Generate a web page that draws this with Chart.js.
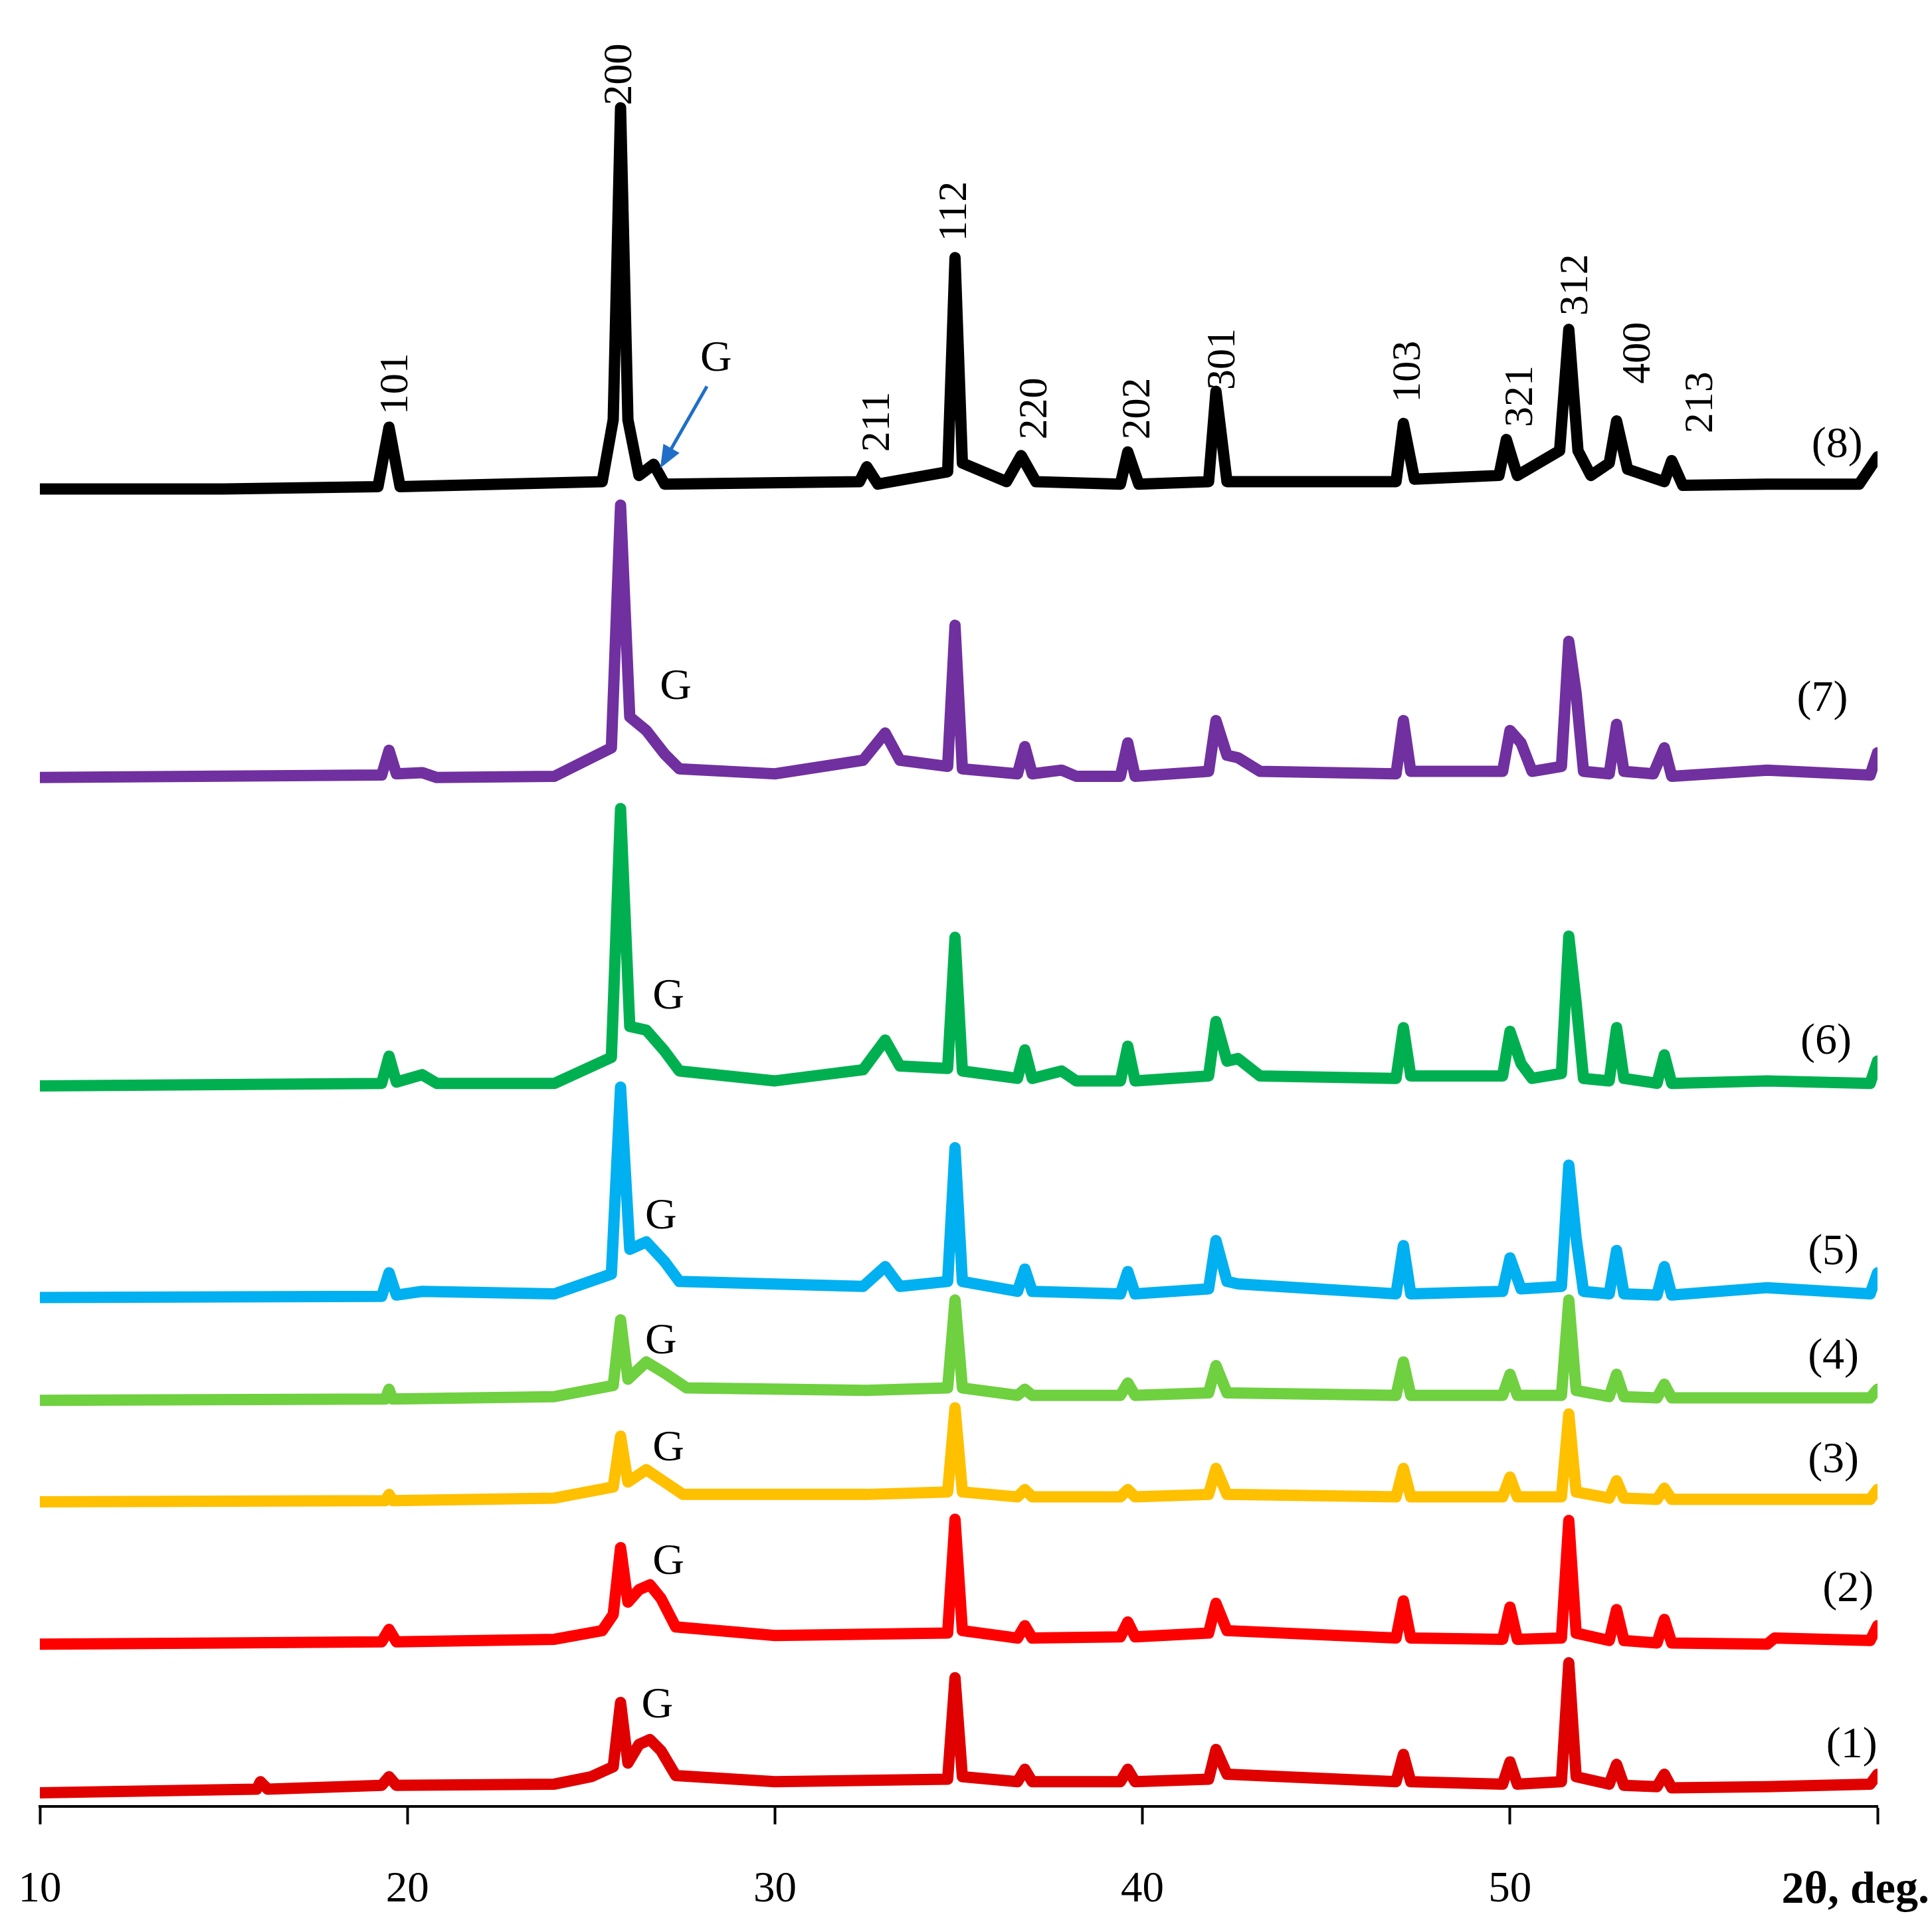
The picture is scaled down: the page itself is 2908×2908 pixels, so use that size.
<!DOCTYPE html>
<html>
<head>
<meta charset="utf-8">
<script src="https://cdn.jsdelivr.net/npm/chart.js@4.4.1/dist/chart.umd.min.js"></script>
<style>
  html, body { margin: 0; padding: 0; background: #fff; }
  canvas { display: block; }
</style>
</head>
<body>
<canvas id="xrd" width="2908" height="2908" style="width:2908px;height:2908px"></canvas>
<script>
// XRD patterns, [2theta, stacked height]
const pattern1 = [[10,11],[14,13],[15.9,14],[16,20],[16.2,14],[19.3,17],[19.5,24],[19.7,17],[24,18],[25,24],[25.6,32],[25.8,84],[26.0,35],[26.3,50],[26.6,54],[26.9,45],[27.3,25],[30,20],[34.7,22],[34.9,104],[35.1,24],[36.6,20],[36.8,30],[37,20],[39.4,20],[39.6,30],[39.8,20],[41.8,22],[42,46],[42.3,26],[46.9,20],[47.1,42],[47.3,20],[49.8,18],[50,36],[50.2,18],[51.4,20],[51.6,116],[51.8,24],[52.7,18],[52.9,34],[53.1,17],[54,16],[54.2,26],[54.4,15],[57,16],[59.8,18],[60,26]];
const pattern2 = [[10,131],[15,132],[19.3,133],[19.5,143],[19.7,133],[24,135],[25.3,142],[25.6,155],[25.8,209],[26.0,165],[26.3,175],[26.6,179],[26.9,168],[27.3,145],[30,138],[34.7,140],[34.9,232],[35.1,142],[36.6,136],[36.8,146],[37,136],[39.4,137],[39.6,149],[39.8,137],[41.8,140],[42,164],[42.3,142],[46.9,136],[47.1,166],[47.3,136],[49.8,135],[50,161],[50.2,135],[51.4,136],[51.6,231],[51.8,140],[52.7,134],[52.9,159],[53.1,134],[54,132],[54.2,151],[54.4,132],[57,131],[57.2,136],[59.8,134],[60,146]];
const pattern3 = [[10,246],[19.4,247],[19.5,252],[19.6,247],[24,249],[25.6,258],[25.8,299],[26.0,262],[26.5,272],[27.0,262],[27.5,252],[32.5,252],[34.7,254],[34.9,322],[35.1,254],[36.6,250],[36.8,256],[37,250],[39.4,250],[39.6,256],[39.8,250],[41.8,252],[42,273],[42.3,252],[46.9,250],[47.1,273],[47.3,250],[49.8,250],[50,266],[50.2,250],[51.4,250],[51.6,317],[51.8,254],[52.7,249],[52.9,263],[53.1,249],[54,248],[54.2,257],[54.4,248],[59.8,248],[60,256]];
const pattern4 = [[10,328],[19.4,329],[19.5,337],[19.6,329],[24,331],[25.6,340],[25.8,393],[26.0,345],[26.5,359],[27.0,350],[27.6,338],[32.5,336],[34.7,338],[34.9,409],[35.1,338],[36.6,332],[36.8,337],[37,332],[39.4,332],[39.6,342],[39.8,332],[41.8,334],[42,356],[42.3,334],[46.9,332],[47.1,359],[47.3,332],[49.8,332],[50,349],[50.2,332],[51.4,332],[51.6,409],[51.8,336],[52.7,331],[52.9,349],[53.1,331],[54,330],[54.2,341],[54.4,330],[59.8,330],[60,337]];
const pattern5 = [[10,411],[19.3,412],[19.5,431],[19.7,413],[20.4,416],[24,414],[25.55,430],[25.8,581],[26.05,450],[26.5,456],[27.0,440],[27.4,424],[32.4,420],[33,436],[33.4,420],[34.7,424],[34.9,532],[35.1,424],[36.6,416],[36.8,434],[37,416],[39.4,414],[39.6,432],[39.8,414],[41.8,418],[42,457],[42.3,424],[42.6,422],[46.9,414],[47.1,453],[47.3,414],[49.8,416],[50,443],[50.3,418],[51.4,420],[51.6,518],[51.8,459],[52,416],[52.7,414],[52.9,449],[53.1,414],[54,413],[54.2,436],[54.4,413],[57,419],[59.8,414],[60,431]];
const pattern6 = [[10,582],[19.3,584],[19.5,606],[19.7,585],[20.4,591],[20.8,584],[24,584],[25.55,605],[25.8,806],[26.05,630],[26.5,627],[27.0,610],[27.4,594],[30,586],[32.4,595],[33,619],[33.4,598],[34.7,596],[34.9,702],[35.1,594],[36.6,588],[36.8,611],[37,588],[37.8,594],[38.2,586],[39.4,586],[39.6,614],[39.8,586],[41.8,590],[42,634],[42.3,602],[42.6,604],[43.2,590],[46.9,588],[47.1,629],[47.3,590],[49.8,590],[50,626],[50.3,600],[50.6,588],[51.4,592],[51.6,703],[51.8,649],[52,588],[52.7,586],[52.9,629],[53.1,588],[54,584],[54.2,607],[54.4,584],[57,586],[59.8,584],[60,602]];
const pattern7 = [[10,831],[19.3,833],[19.5,853],[19.7,834],[20.4,835],[20.8,831],[24,832],[25.55,855],[25.8,1051],[26.05,880],[26.5,869],[27.0,850],[27.4,838],[30,834],[32.4,845],[33,867],[33.4,845],[34.7,840],[34.9,954],[35.1,838],[36.6,834],[36.8,856],[37,834],[37.8,837],[38.2,832],[39.4,832],[39.6,859],[39.8,832],[41.8,836],[42,877],[42.3,849],[42.6,847],[43.2,836],[46.9,834],[47.1,877],[47.3,836],[49.8,836],[50,869],[50.3,859],[50.6,836],[51.4,840],[51.6,941],[51.8,899],[52,836],[52.7,834],[52.9,874],[53.1,836],[53.9,834],[54.2,855],[54.4,832],[57,837],[59.8,833],[60,851]];
const pattern8 = [[10,1064],[15,1064],[19.2,1066],[19.5,1114],[19.8,1066],[25.3,1070],[25.6,1120],[25.8,1372],[26.0,1120],[26.3,1075],[26.7,1084],[27,1068],[32.3,1070],[32.5,1082],[32.8,1068],[34.7,1078],[34.9,1251],[35.1,1085],[36.3,1070],[36.7,1091],[37.1,1070],[39.4,1068],[39.6,1094],[39.9,1068],[41.8,1070],[42.0,1143],[42.3,1070],[46.9,1070],[47.1,1117],[47.4,1072],[49.7,1075],[49.9,1104],[50.2,1075],[51.35,1095],[51.6,1193],[51.85,1095],[52.2,1075],[52.7,1085],[52.9,1119],[53.2,1080],[54.2,1070],[54.4,1087],[54.7,1067],[57,1068],[59.5,1068],[60,1090]];

const patterns = [pattern1, pattern2, pattern3, pattern4, pattern5, pattern6, pattern7, pattern8];
const colors = ['#e00000', '#ff0000', '#ffc000', '#6fd040', '#00b0f0', '#00b050', '#7030a0', '#000000'];

const xTicks = [10, 20, 30, 40, 50, 60];

// hkl reflections on pattern 8: [label, 2theta, bottom of text]
const hklLabels = [['101',19.7,1124],['200',25.8,1374],['211',32.8,1094],['112',34.9,1264],['220',37.1,1104],['202',39.9,1104],['301',42.2,1144],['103',47.25,1134],['321',50.3,1114],['312',51.8,1204],['400',53.5,1149],['213',55.2,1109]];
// graphite marks
const gLabels = [[28.4,1169],[27.3,904],[27.1,654],[26.9,476],[26.9,375],[27.1,289],[27.1,197],[26.8,81]];
// sample numbers
const sampleLabels = [['(8)',58.9,1099],['(7)',58.5,894],['(6)',58.6,617],['(5)',58.8,447],['(4)',58.8,363],['(3)',58.8,279],['(2)',59.2,175],['(1)',59.3,49]];
const gArrow = [[28.15,1147],[26.88,1081]];

const serif = '"Liberation Serif", "DejaVu Serif", serif';

const labelPlugin = {
    id: 'labels',
    afterDatasetsDraw(chart) {
        const ctx = chart.ctx;
        const xs = chart.scales.x, ys = chart.scales.y;
        ctx.save();
        ctx.fillStyle = '#000';
        ctx.font = '62px ' + serif;
        hklLabels.forEach(([t, x, y]) => {
            ctx.save();
            ctx.translate(xs.getPixelForValue(x), ys.getPixelForValue(y));
            ctx.rotate(-Math.PI / 2);
            ctx.textAlign = 'left';
            ctx.textBaseline = 'middle';
            ctx.fillText(t, 0, 0);
            ctx.restore();
        });
        ctx.font = '66px ' + serif;
        ctx.textAlign = 'center';
        ctx.textBaseline = 'middle';
        gLabels.forEach(([x, y]) => ctx.fillText('G', xs.getPixelForValue(x), ys.getPixelForValue(y)));
        sampleLabels.forEach(([t, x, y]) => ctx.fillText(t, xs.getPixelForValue(x), ys.getPixelForValue(y)));

        // arrow to graphite peak
        const x1 = xs.getPixelForValue(gArrow[0][0]), y1 = ys.getPixelForValue(gArrow[0][1]);
        const x2 = xs.getPixelForValue(gArrow[1][0]), y2 = ys.getPixelForValue(gArrow[1][1]);
        const a = Math.atan2(y2 - y1, x2 - x1);
        ctx.strokeStyle = '#1f6fc8';
        ctx.fillStyle = '#1f6fc8';
        ctx.lineWidth = 5;
        ctx.beginPath();
        ctx.moveTo(x1, y1);
        ctx.lineTo(x2 - 20 * Math.cos(a), y2 - 20 * Math.sin(a));
        ctx.stroke();
        ctx.beginPath();
        ctx.moveTo(x2, y2);
        ctx.lineTo(x2 - 34 * Math.cos(a) + 14 * Math.sin(a), y2 - 34 * Math.sin(a) - 14 * Math.cos(a));
        ctx.lineTo(x2 - 34 * Math.cos(a) - 14 * Math.sin(a), y2 - 34 * Math.sin(a) + 14 * Math.cos(a));
        ctx.closePath();
        ctx.fill();

        // axis title in place of the last tick label
        ctx.fillStyle = '#000';
        ctx.font = 'bold 68px ' + serif;
        ctx.textAlign = 'right';
        ctx.textBaseline = 'middle';
        ctx.fillText('2θ, deg.', chart.width - 4, xs.top + 127);
        ctx.restore();
    }
};

new Chart(document.getElementById('xrd'), {
    type: 'line',
    data: {
        datasets: patterns.map((p, i) => ({
            data: p.map(([x, y]) => ({ x, y })),
            borderColor: colors[i],
            borderWidth: 17,
            pointRadius: 0,
            tension: 0,
            borderJoinStyle: 'round',
            borderCapStyle: 'round'
        }))
    },
    options: {
        responsive: false,
        animation: false,
        devicePixelRatio: 1,
        layout: { padding: { top: 0, left: 60, right: 82, bottom: 0 } },
        plugins: { legend: { display: false }, tooltip: { enabled: false } },
        scales: {
            x: {
                type: 'linear',
                min: 10,
                max: 60,
                afterBuildTicks: (axis) => { axis.ticks = xTicks.map(v => ({ value: v })); },
                afterFit: (axis) => { axis.paddingLeft = 0; axis.paddingRight = 0; axis.height = 189; },
                ticks: {
                    padding: 60,
                    maxRotation: 0,
                    color: '#000',
                    font: { family: serif, size: 65 },
                    callback: (v) => v === 60 ? '' : v
                },
                grid: { drawOnChartArea: false, tickLength: 27, color: '#000', tickWidth: 4 },
                border: { color: '#000', width: 4 }
            },
            y: { display: false, min: 0, max: 1459 }
        }
    },
    plugins: [labelPlugin]
});
</script>
</body>
</html>
